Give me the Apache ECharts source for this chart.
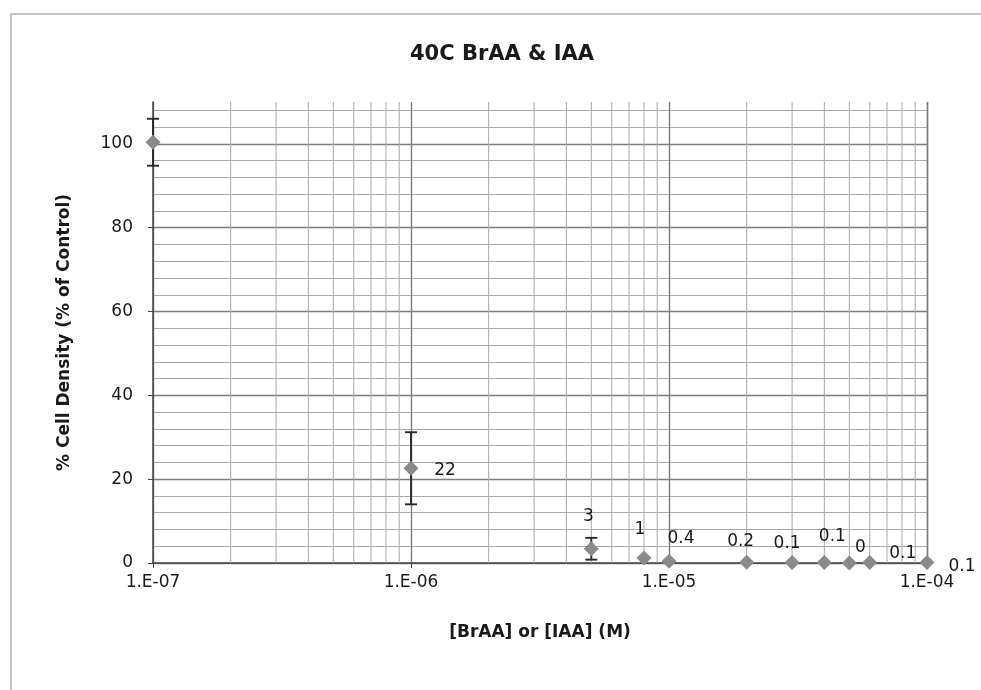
<!DOCTYPE html>
<html><head><meta charset="utf-8">
<script src="https://cdn.jsdelivr.net/npm/echarts@6/dist/echarts.min.js"></script>
<style>html,body{margin:0;padding:0;background:#fff}#c{width:981px;height:690px}</style>
</head><body><div id="c"></div>
<script>
// ---- data ----
const concentrations = [1e-7, 1e-6, 5e-6, 8e-6, 1e-5, 2e-5, 3e-5, 4e-5, 5e-5, 6e-5, 1e-4];
const cellDensity   = [100.4, 22.6, 3.4, 1.2, 0.4, 0.2, 0.1, 0.1, 0.0, 0.1, 0.1];
const errorAmount   = [5.6, 8.6, 2.6, 0, 0, 0, 0, 0, 0, 0, 0];
const pointLabels   = ['', '22', '3', '1', '0.4', '0.2', '0.1', '0.1', '0', '0.1', '0.1'];
const xTickLabels   = ['1.E-07', '1.E-06', '1.E-05', '1.E-04'];
const yTickLabels   = ['0', '20', '40', '60', '80', '100'];
// label placement (layout, not data)
const labelOffsets  = [[0,0],[34,2],[-3,-32],[-4,-28],[12,-23],[-6,-21],[-5,-19],[8,-26],[11,-15],[33,-9],[35,4]];

const X_MIN = 1e-7, X_MAX = 1e-4, Y_MIN = 0, Y_MAX = 110;
const minExp = Math.round(Math.log10(X_MIN)), maxExp = Math.round(Math.log10(X_MAX));
// minor log gridline positions (2..9 within each decade)
const minorX = [];
for (let e = minExp; e < maxExp; e++) for (let m = 2; m <= 9; m++) minorX.push(m * Math.pow(10, e));

const FONT = '"DejaVu Sans", "Open Sans", sans-serif';
const MINOR = '#a9a9a9', MAJOR = '#7d7d7d', TEXT = '#1a1a1a';
const chart = echarts.init(document.getElementById('c'), null, {renderer: 'canvas'});

chart.setOption({
  backgroundColor: '#ffffff',
  animation: false,
  title: {
    text: '40C BrAA & IAA', left: 497, textAlign: 'center', top: 39,
    textStyle: {fontFamily: FONT, fontSize: 21, fontWeight: 'bold', color: TEXT}
  },
  graphic: [{
    type: 'rect', silent: true, z: -10,
    shape: {x: 11, y: 14, width: 1000, height: 700},
    style: {fill: 'none', stroke: '#c4c4c4', lineWidth: 2}
  }],
  grid: {left: 153, right: 54, top: 102, bottom: 127, containLabel: false},
  xAxis: {
    type: 'log', logBase: 10, min: X_MIN, max: X_MAX,
    name: '[BrAA] or [IAA] (M)', nameLocation: 'middle', nameGap: 61,
    nameTextStyle: {fontFamily: FONT, fontSize: 17, fontWeight: 'bold', color: TEXT},
    axisLine: {show: true, onZero: false, lineStyle: {color: '#444', width: 1.5}},
    axisTick: {show: true, length: 5, lineStyle: {color: '#444'}},
    axisLabel: {
      margin: 11, fontFamily: FONT, fontSize: 17, color: TEXT,
      formatter: v => xTickLabels[Math.round(Math.log10(v)) - minExp] || ''
    },
    splitLine: {show: true, lineStyle: {color: MAJOR, width: 1.4}},
    minorTick: {show: false}, minorSplitLine: {show: false}
  },
  yAxis: [{
    type: 'value', min: Y_MIN, max: Y_MAX, interval: 20,
    name: '% Cell Density (% of Control)', nameLocation: 'middle', nameGap: 80, nameRotate: 90,
    nameTextStyle: {fontFamily: FONT, fontSize: 17, fontWeight: 'bold', color: TEXT},
    axisLine: {show: true, lineStyle: {color: '#444', width: 1.5}},
    axisTick: {show: true, length: 5, lineStyle: {color: '#444'}},
    axisLabel: {
      margin: 20, fontFamily: FONT, fontSize: 17, color: TEXT, showMaxLabel: false,
      formatter: v => yTickLabels[Math.round(v / 20)] || ''
    },
    splitLine: {show: true, showMaxLine: false, lineStyle: {color: MAJOR, width: 1.4}}
  }, {
    type: 'value', min: Y_MIN, max: Y_MAX, interval: 4, position: 'left',
    axisLine: {show: false}, axisTick: {show: false}, axisLabel: {show: false},
    splitLine: {show: true, showMaxLine: false, lineStyle: {color: MINOR, width: 1}},
    z: -1
  }],
  series: [{
    type: 'custom', silent: true, z: 1, clip: false,
    data: minorX.map(v => [v, 0]),
    renderItem: function (params, api) {
      const v = api.value(0);
      const a = api.coord([v, Y_MIN]);
      const b = api.coord([v, Y_MAX]);
      return {type: 'line', shape: {x1: a[0], y1: a[1], x2: b[0], y2: b[1]},
        style: {stroke: MINOR, lineWidth: 1}};
    }
  }, {
    type: 'custom', z: 4, clip: false, silent: true,
    data: concentrations.map((x, i) => [x, cellDensity[i] - errorAmount[i], cellDensity[i] + errorAmount[i]])
      .filter(d => d[2] > d[1]),
    renderItem: function (params, api) {
      const lo = api.coord([api.value(0), api.value(1)]);
      const hi = api.coord([api.value(0), api.value(2)]);
      const w = 6;
      const st = {stroke: '#2a2a2a', lineWidth: 1.9};
      return {type: 'group', children: [
        {type: 'line', shape: {x1: lo[0], y1: lo[1], x2: hi[0], y2: hi[1]}, style: st},
        {type: 'line', shape: {x1: hi[0] - w, y1: hi[1], x2: hi[0] + w, y2: hi[1]}, style: st},
        {type: 'line', shape: {x1: lo[0] - w, y1: lo[1], x2: lo[0] + w, y2: lo[1]}, style: st}
      ]};
    }
  }, {
    type: 'scatter', z: 5, clip: false,
    symbol: 'diamond', symbolSize: 15,
    itemStyle: {color: '#8a8a8a', opacity: 1},
    data: concentrations.map((x, i) => ({
      value: [x, cellDensity[i]],
      label: {
        show: pointLabels[i] !== '', formatter: pointLabels[i], offset: labelOffsets[i],
        position: 'inside', fontFamily: FONT, fontSize: 17, color: TEXT,
        textBorderWidth: 0, textBorderColor: 'transparent'
      }
    }))
  }]
});
</script>
</body></html>
